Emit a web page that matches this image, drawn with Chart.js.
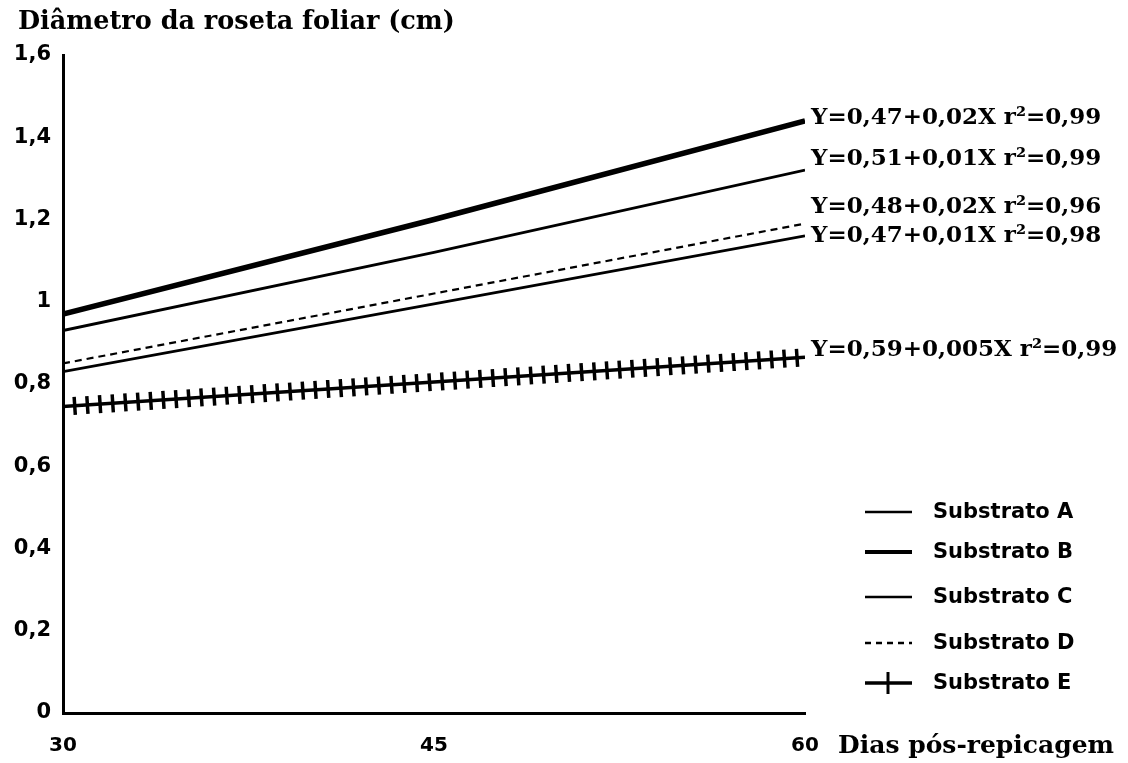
<!DOCTYPE html>
<html>
<head>
<meta charset="utf-8">
<script src="https://cdn.jsdelivr.net/npm/chart.js@4/dist/chart.umd.min.js"></script>
<style>
  html, body { margin: 0; padding: 0; background: #fff; }
</style>
</head>
<body>
<canvas id="rosetaChart" width="1128" height="763"></canvas>
<script>
// dados
const dias = [30, 45, 60];
const substratoA = [0.93, 1.12, 1.32];
const substratoB = [0.97, 1.20, 1.44];
const substratoC = [0.83, 0.995, 1.16];
const substratoD = [0.85, 1.02, 1.19];
const substratoE = [0.745, 0.805, 0.865];
const yTicks = [0, 0.2, 0.4, 0.6, 0.8, 1, 1.2, 1.4, 1.6];
const xTicks = [30, 45, 60];
const nomes = ['Substrato A', 'Substrato B', 'Substrato C', 'Substrato D', 'Substrato E'];
const equacoes = [
  'Y=0,51+0,01X r²=0,99',
  'Y=0,47+0,02X r²=0,99',
  'Y=0,47+0,01X r²=0,98',
  'Y=0,48+0,02X r²=0,96',
  'Y=0,59+0,005X r²=0,99'
];

const serif = '"DejaVu Serif", serif';
const sans = '"DejaVu Sans", sans-serif';

function pts(vals) {
  return dias.map((d, i) => ({ x: d, y: vals[i] }));
}

// textos: títulos dos eixos, equações e legenda
const textos = {
  id: 'textos',
  afterDraw(chart) {
    const ctx = chart.ctx;
    ctx.save();
    ctx.fillStyle = '#000';
    ctx.textBaseline = 'middle';
    ctx.textAlign = 'left';

    ctx.font = 'bold 25.5px ' + serif;
    ctx.fillText('Diâmetro da roseta foliar (cm)', 18, 22);
    ctx.font = 'bold 25px ' + serif;
    ctx.fillText('Dias pós-repicagem', 838, 746);

    // equações ao lado do fim de cada reta
    ctx.font = 'bold 23px ' + serif;
    const dy = [-11, -3, 0, -17, -7];
    [0, 1, 2, 3, 5].forEach((di, k) => {
      const meta = chart.getDatasetMeta(di);
      const p = meta.data[meta.data.length - 1];
      ctx.fillText(equacoes[k], p.x + 6, p.y + dy[k]);
    });

    // legenda
    const ly = [512, 552, 597, 643, 683];
    ctx.font = 'bold 21px ' + sans;
    ly.forEach((y, i) => {
      ctx.strokeStyle = '#000';
      ctx.setLineDash(i === 3 ? [6, 5] : []);
      ctx.lineWidth = i === 1 ? 4 : (i === 4 ? 3.5 : 2.5);
      ctx.beginPath();
      ctx.moveTo(865, y);
      ctx.lineTo(912, y);
      ctx.stroke();
      if (i === 4) {
        ctx.setLineDash([]);
        ctx.lineWidth = 3;
        ctx.beginPath();
        ctx.moveTo(888, y - 11);
        ctx.lineTo(888, y + 11);
        ctx.stroke();
      }
      ctx.fillText(nomes[i], 933, y + 1);
    });
    ctx.restore();
  }
};

const linha = (label, vals, extra) => Object.assign({
  label: label,
  data: pts(vals),
  borderColor: '#000',
  borderWidth: 2.8,
  pointRadius: 0,
  tension: 0,
  fill: false
}, extra || {});

new Chart(document.getElementById('rosetaChart'), {
  type: 'line',
  data: {
    datasets: [
      linha(nomes[0], substratoA),
      linha(nomes[1], substratoB, { borderWidth: 5.5 }),
      linha(nomes[2], substratoC),
      linha(nomes[3], substratoD, { borderWidth: 2.2, borderDash: [7, 5] }),
      // marcas verticais da curva E
      linha('E marcas', substratoE, { borderWidth: 18, borderDash: [3.5, 9.2], borderDashOffset: -10 }),
      linha(nomes[4], substratoE, { borderWidth: 3.5 })
    ]
  },
  options: {
    responsive: false,
    animation: false,
    layout: { padding: { left: 0, right: 323, top: 55, bottom: 0 } },
    plugins: {
      legend: { display: false },
      tooltip: { enabled: false }
    },
    scales: {
      x: {
        type: 'linear',
        min: 30,
        max: 60,
        afterBuildTicks: s => { s.ticks = xTicks.map(v => ({ value: v })); },
        afterFit: s => { s.height = 50; },
        grid: { display: false, drawTicks: false },
        border: { display: true, color: '#000', width: 3 },
        ticks: { color: '#000', padding: 21, maxRotation: 0, font: { family: sans, size: 20, weight: 'bold' } }
      },
      y: {
        min: 0,
        max: 1.6,
        afterBuildTicks: s => { s.ticks = yTicks.map(v => ({ value: v })); },
        afterFit: s => { s.width = 63; },
        grid: { display: false, drawTicks: false },
        border: { display: true, color: '#000', width: 3 },
        ticks: {
          color: '#000',
          padding: 12,
          font: { family: sans, size: 21, weight: 'bold' },
          callback: v => String(Math.round(v * 10) / 10).replace('.', ',')
        }
      }
    }
  },
  plugins: [textos]
});
</script>
</body>
</html>
